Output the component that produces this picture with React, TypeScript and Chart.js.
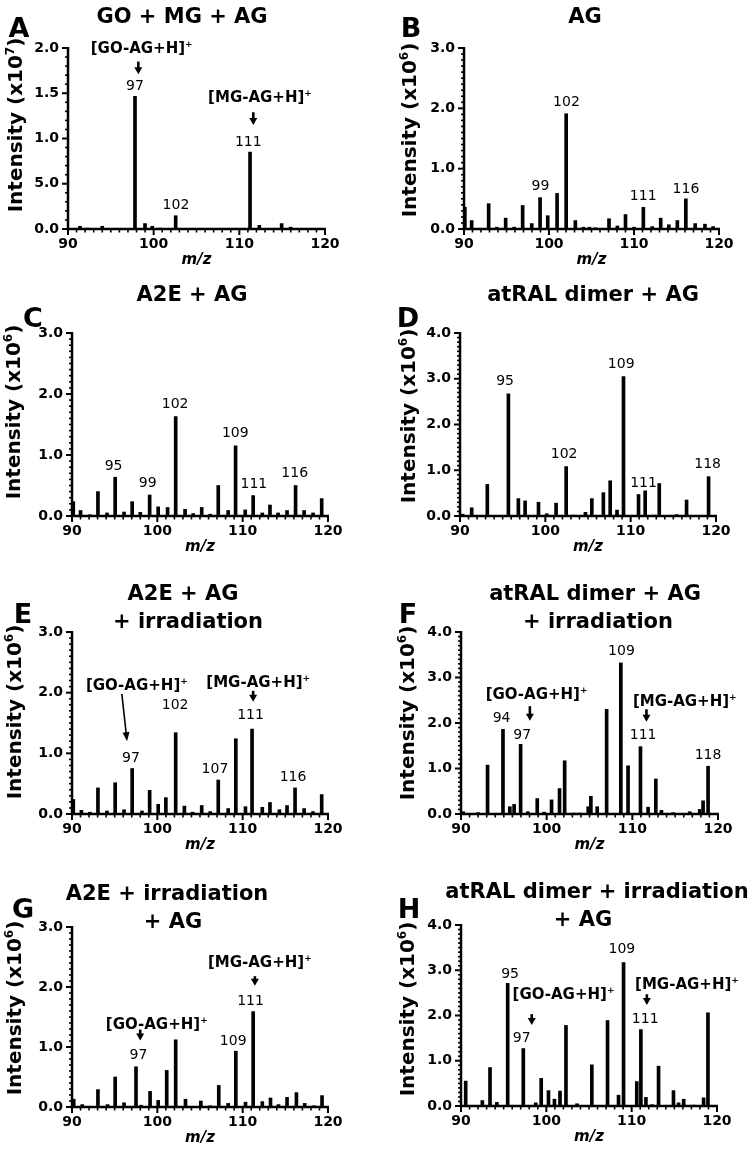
import React, { useEffect, useRef } from "react";
import { Chart, registerables } from "chart.js";

Chart.register(...registerables);

const FONT = "'DejaVu Sans', 'Liberation Sans', sans-serif";
const PAGE_W = 749;
const PAGE_H = 1149;
const YW = 40;
const XH = 30;

// ---------- data ----------
const xTickLabels = ["90", "100", "110", "120"];
const yTicksA = ["0.0", "5.0", "1.0", "1.5", "2.0"];
const yTicks3 = ["0.0", "1.0", "2.0", "3.0"];
const yTicks4 = ["0.0", "1.0", "2.0", "3.0", "4.0"];

// A: GO + MG + AG (x10^7)
const mzA = [91.4, 92.26, 94.0, 97.82, 98.99, 99.84, 100.74, 102.57, 111.25, 112.33, 114.94, 115.99];
const intA = [0.03, 0.01, 0.03, 1.466, 0.06, 0.03, 0.01, 0.147, 0.85, 0.04, 0.06, 0.02];

// B: AG
const mzB = [90.1, 90.9, 92.9, 93.85, 94.9, 95.9, 96.9, 97.97, 98.95, 99.85, 100.95, 102.02, 103.1, 104.05, 104.75, 105.45, 107.06, 108.04, 109.0, 110.0, 111.1, 112.15, 113.14, 114.1, 115.1, 116.1, 117.2, 118.35, 119.3];
const intB = [0.36, 0.14, 0.42, 0.03, 0.18, 0.03, 0.39, 0.09, 0.52, 0.22, 0.59, 1.91, 0.14, 0.03, 0.03, 0.02, 0.17, 0.05, 0.24, 0.03, 0.36, 0.04, 0.18, 0.07, 0.14, 0.5, 0.09, 0.08, 0.04];

// C: A2E + AG
const mzC = [90.15, 91.0, 92.1, 93.04, 94.1, 95.06, 96.1, 97.05, 98.0, 99.1, 100.1, 101.2, 102.15, 103.25, 104.2, 105.2, 106.2, 107.14, 108.3, 109.17, 110.3, 111.23, 112.3, 113.2, 114.15, 115.2, 116.2, 117.2, 118.25, 119.26];
const intC = [0.235, 0.09, 0.02, 0.4, 0.05, 0.635, 0.065, 0.235, 0.06, 0.345, 0.15, 0.14, 1.63, 0.11, 0.04, 0.14, 0.03, 0.5, 0.09, 1.15, 0.1, 0.335, 0.05, 0.18, 0.05, 0.09, 0.5, 0.09, 0.05, 0.285];

// D: atRAL dimer + AG
const mzD = [90.3, 91.37, 92.35, 93.2, 95.67, 96.84, 97.63, 99.2, 100.17, 101.26, 102.44, 103.3, 104.7, 105.45, 106.8, 107.6, 108.4, 109.16, 110.92, 111.7, 112.7, 113.35, 115.4, 116.55, 119.13];
const intD = [0.04, 0.18, 0.01, 0.69, 2.67, 0.38, 0.33, 0.3, 0.05, 0.28, 1.08, 0.02, 0.08, 0.38, 0.51, 0.77, 0.13, 3.05, 0.47, 0.55, 0.02, 0.71, 0.03, 0.35, 0.86];

// E: A2E + AG + irradiation
const mzE = [90.15, 91.1, 92.1, 93.04, 94.1, 95.06, 96.1, 97.05, 98.2, 99.1, 100.1, 101.0, 102.15, 103.17, 104.14, 105.2, 106.2, 107.14, 108.3, 109.2, 110.33, 111.1, 112.3, 113.2, 114.3, 115.2, 116.14, 117.2, 118.24, 119.26];
const intE = [0.24, 0.06, 0.03, 0.43, 0.05, 0.515, 0.07, 0.75, 0.05, 0.39, 0.16, 0.27, 1.34, 0.13, 0.03, 0.14, 0.04, 0.56, 0.09, 1.24, 0.12, 1.4, 0.11, 0.19, 0.07, 0.14, 0.43, 0.09, 0.04, 0.32];

// F: atRAL dimer + AG + irradiation
const mzF = [90.27, 92.0, 93.1, 94.9, 95.7, 96.2, 96.96, 97.8, 98.9, 99.7, 100.57, 101.5, 102.1, 103.2, 103.8, 104.85, 105.16, 105.9, 107.0, 108.66, 109.5, 110.95, 111.84, 112.74, 113.4, 114.76, 116.7, 117.87, 118.26, 118.84];
const intF = [0.05, 0.03, 1.075, 1.86, 0.16, 0.21, 1.53, 0.05, 0.34, 0.04, 0.31, 0.56, 1.17, 0.02, 0.02, 0.16, 0.39, 0.16, 2.3, 3.32, 1.06, 1.48, 0.15, 0.77, 0.08, 0.03, 0.05, 0.1, 0.29, 1.05];

// G: A2E + irradiation + AG
const mzG = [90.2, 91.2, 93.04, 94.17, 95.06, 96.1, 97.5, 98.1, 99.15, 100.1, 101.1, 102.15, 103.3, 105.1, 106.2, 107.2, 108.3, 109.2, 110.33, 111.23, 112.3, 113.26, 114.2, 115.2, 116.3, 117.27, 118.36, 119.3];
const intG = [0.13, 0.04, 0.29, 0.04, 0.5, 0.07, 0.67, 0.03, 0.26, 0.11, 0.61, 1.12, 0.13, 0.1, 0.02, 0.36, 0.06, 0.93, 0.08, 1.59, 0.09, 0.15, 0.04, 0.16, 0.24, 0.06, 0.02, 0.19];

// H: atRAL dimer + irradiation + AG
const mzH = [90.55, 92.5, 93.4, 94.2, 95.47, 97.3, 98.76, 99.4, 100.25, 100.95, 101.6, 102.3, 103.6, 105.33, 107.17, 108.46, 109.05, 110.6, 111.08, 111.67, 112.37, 113.15, 114.9, 115.5, 116.1, 117.26, 118.43, 118.94];
const intH = [0.55, 0.12, 0.85, 0.08, 2.71, 1.27, 0.07, 0.61, 0.34, 0.15, 0.33, 1.78, 0.05, 0.91, 1.89, 0.24, 3.17, 0.54, 1.69, 0.19, 0.03, 0.88, 0.34, 0.07, 0.15, 0.02, 0.18, 2.06];

// ---------- layout / annotations ----------
type Peak = { t: string; x: number; y: number };
type Ion = { name: string; x: number; y: number; ax: number; ay1: number; ax2?: number; ay2: number; thin?: boolean };
type Panel = {
  letter: string; letterPos: [number, number];
  titles: { text: string; x: number; y: number }[];
  yExp: string; yTitlePos: [number, number];
  L: number; R: number; T: number; B: number;
  yMax: number; yMajor: number; yMinor: number; yLabels: string[];
  mz: number[]; val: number[];
  peaks: Peak[]; ions: Ion[];
};

const panels: Panel[] = [
  {
    letter: "A", letterPos: [19, 27], titles: [{ text: "GO + MG + AG", x: 182, y: 15 }],
    yExp: "7", yTitlePos: [15, 125], L: 68, R: 325, T: 48, B: 229,
    yMax: 2, yMajor: 0.5, yMinor: 0.1, yLabels: yTicksA, mz: mzA, val: intA,
    peaks: [{ t: "97", x: 97.82, y: 1.595 }, { t: "102", x: 102.6, y: 0.28 }, { t: "111", x: 111.05, y: 0.969 }],
    ions: [
      { name: "GO", x: 98.6, y: 2.0, ax: 98.21, ay1: 1.85, ay2: 1.71 },
      { name: "MG", x: 112.41, y: 1.466, ax: 111.63, ay1: 1.29, ay2: 1.15 },
    ],
  },
  {
    letter: "B", letterPos: [411, 27], titles: [{ text: "AG", x: 585, y: 15 }],
    yExp: "6", yTitlePos: [409, 130], L: 464, R: 719, T: 48, B: 229,
    yMax: 3, yMajor: 1, yMinor: 0.1, yLabels: yTicks3, mz: mzB, val: intB,
    peaks: [{ t: "99", x: 98.99, y: 0.735 }, { t: "102", x: 102.05, y: 2.116 }, { t: "111", x: 111.08, y: 0.569 }, { t: "116", x: 116.11, y: 0.68 }],
    ions: [],
  },
  {
    letter: "C", letterPos: [33, 317], titles: [{ text: "A2E + AG", x: 192, y: 293 }],
    yExp: "6", yTitlePos: [13, 412], L: 72, R: 328, T: 333, B: 516,
    yMax: 3, yMajor: 1, yMinor: 0.1, yLabels: yTicks3, mz: mzC, val: intC,
    peaks: [
      { t: "95", x: 94.87, y: 0.837 }, { t: "99", x: 98.88, y: 0.564 }, { t: "102", x: 102.08, y: 1.85 },
      { t: "109", x: 109.13, y: 1.374 }, { t: "111", x: 111.31, y: 0.536 }, { t: "116", x: 116.1, y: 0.728 },
    ],
    ions: [],
  },
  {
    letter: "D", letterPos: [408, 317], titles: [{ text: "atRAL dimer + AG", x: 593, y: 293 }],
    yExp: "6", yTitlePos: [408, 416], L: 460, R: 716, T: 333, B: 516,
    yMax: 4, yMajor: 1, yMinor: 0.1, yLabels: yTicks4, mz: mzD, val: intD,
    peaks: [
      { t: "95", x: 95.28, y: 2.978 }, { t: "102", x: 102.2, y: 1.387 }, { t: "109", x: 108.89, y: 3.343 },
      { t: "111", x: 111.51, y: 0.752 }, { t: "118", x: 119.02, y: 1.153 },
    ],
    ions: [],
  },
  {
    letter: "E", letterPos: [23, 613],
    titles: [{ text: "A2E + AG", x: 183, y: 592 }, { text: "+ irradiation", x: 188, y: 620 }],
    yExp: "6", yTitlePos: [14, 712], L: 72, R: 328, T: 632, B: 814,
    yMax: 3, yMajor: 1, yMinor: 0.1, yLabels: yTicks3, mz: mzE, val: intE,
    peaks: [
      { t: "97", x: 96.9, y: 0.944 }, { t: "102", x: 102.08, y: 1.821 }, { t: "107", x: 106.75, y: 0.768 },
      { t: "111", x: 110.92, y: 1.646 }, { t: "116", x: 115.9, y: 0.631 },
    ],
    ions: [
      { name: "GO", x: 97.6, y: 2.139, ax: 95.84, ay1: 1.98, ax2: 96.45, ay2: 1.2, thin: true },
      { name: "MG", x: 111.82, y: 2.178, ax: 111.23, ay1: 2.03, ay2: 1.85 },
    ],
  },
  {
    letter: "F", letterPos: [408, 613],
    titles: [{ text: "atRAL dimer + AG", x: 595, y: 592 }, { text: "+ irradiation", x: 598, y: 620 }],
    yExp: "6", yTitlePos: [407, 713], L: 461, R: 718, T: 632, B: 814,
    yMax: 4, yMajor: 1, yMinor: 0.1, yLabels: yTicks4, mz: mzF, val: intF,
    peaks: [
      { t: "94", x: 94.74, y: 2.135 }, { t: "97", x: 97.15, y: 1.77 }, { t: "109", x: 108.73, y: 3.598 },
      { t: "111", x: 111.26, y: 1.77 }, { t: "118", x: 118.84, y: 1.316 },
    ],
    ions: [
      { name: "GO", x: 98.82, y: 2.647, ax: 98.04, ay1: 2.37, ay2: 2.05 },
      { name: "MG", x: 116.12, y: 2.501, ax: 111.65, ay1: 2.3, ay2: 2.03 },
    ],
  },
  {
    letter: "G", letterPos: [23, 908],
    titles: [{ text: "A2E + irradiation", x: 167, y: 892 }, { text: "+ AG", x: 173, y: 920 }],
    yExp: "6", yTitlePos: [14, 1008], L: 72, R: 328, T: 927, B: 1107,
    yMax: 3, yMajor: 1, yMinor: 0.1, yLabels: yTicks3, mz: mzG, val: intG,
    peaks: [{ t: "97", x: 97.79, y: 0.889 }, { t: "109", x: 108.89, y: 1.122 }, { t: "111", x: 110.92, y: 1.778 }],
    ions: [
      { name: "GO", x: 99.93, y: 1.389, ax: 97.99, ay1: 1.29, ay2: 1.11 },
      { name: "MG", x: 112.01, y: 2.417, ax: 111.43, ay1: 2.18, ay2: 2.02 },
    ],
  },
  {
    letter: "H", letterPos: [409, 908],
    titles: [{ text: "atRAL dimer + irradiation", x: 597, y: 890 }, { text: "+ AG", x: 583, y: 918 }],
    yExp: "6", yTitlePos: [407, 1009], L: 461, R: 717, T: 925, B: 1106,
    yMax: 4, yMajor: 1, yMinor: 0.1, yLabels: yTicks4, mz: mzH, val: intH,
    peaks: [{ t: "95", x: 95.75, y: 2.932 }, { t: "97", x: 97.12, y: 1.532 }, { t: "109", x: 108.85, y: 3.484 }, { t: "111", x: 111.59, y: 1.937 }],
    ions: [
      { name: "GO", x: 102.01, y: 2.49, ax: 98.29, ay1: 2.03, ay2: 1.79 },
      { name: "MG", x: 116.48, y: 2.711, ax: 111.78, ay1: 2.47, ay2: 2.23 },
    ],
  },
];

// ---------- drawing helpers ----------
type Part = { t: string; sup?: boolean };

function drawRich(ctx: CanvasRenderingContext2D, parts: Part[], x: number, y: number, size: number, weight: string, style = "normal") {
  const supSize = Math.round(size * 0.62);
  const fMain = `${style} ${weight} ${size}px ${FONT}`;
  const fSup = `${style} ${weight} ${supSize}px ${FONT}`;
  let w = 0;
  for (const p of parts) {
    ctx.font = p.sup ? fSup : fMain;
    w += ctx.measureText(p.t).width;
  }
  let cx = x - w / 2;
  const base = y + size * 0.365;
  ctx.textAlign = "left";
  ctx.textBaseline = "alphabetic";
  for (const p of parts) {
    ctx.font = p.sup ? fSup : fMain;
    ctx.fillText(p.t, cx, p.sup ? base - size * 0.4 : base);
    cx += ctx.measureText(p.t).width;
  }
}

function drawArrow(ctx: CanvasRenderingContext2D, x1: number, y1: number, x2: number, y2: number, shaftW: number, headL: number, headW: number) {
  const dx = x2 - x1, dy = y2 - y1;
  const len = Math.hypot(dx, dy) || 1;
  const ux = dx / len, uy = dy / len;
  const bx = x2 - ux * headL, by = y2 - uy * headL;
  ctx.lineWidth = shaftW;
  ctx.beginPath();
  ctx.moveTo(x1, y1);
  ctx.lineTo(bx + ux, by + uy);
  ctx.stroke();
  ctx.beginPath();
  ctx.moveTo(x2, y2);
  ctx.lineTo(bx - (uy * headW) / 2, by + (ux * headW) / 2);
  ctx.lineTo(bx + (uy * headW) / 2, by - (ux * headW) / 2);
  ctx.closePath();
  ctx.fill();
}

function makeDecor(p: Panel) {
  return {
    id: "decor" + p.letter,
    afterDraw(chart: any) {
      const ctx: CanvasRenderingContext2D = chart.ctx;
      const xs = chart.scales.x, ys = chart.scales.y;
      const { left, right, top, bottom } = chart.chartArea;
      ctx.save();
      ctx.strokeStyle = "#000";
      ctx.fillStyle = "#000";
      ctx.lineCap = "butt";
      // axes
      ctx.lineWidth = 2.5;
      ctx.beginPath();
      ctx.moveTo(left, top - 1);
      ctx.lineTo(left, bottom + 1.25);
      ctx.moveTo(left - 1.25, bottom);
      ctx.lineTo(right + 1, bottom);
      ctx.stroke();
      // y ticks (major + minor)
      const nMinor = Math.round(p.yMax / p.yMinor);
      const per = Math.round(p.yMajor / p.yMinor);
      for (let i = 0; i <= nMinor; i++) {
        const py = ys.getPixelForValue(i * p.yMinor);
        const major = i % per === 0;
        ctx.lineWidth = major ? 2 : 1.6;
        ctx.beginPath();
        ctx.moveTo(left - (major ? 6 : 3), py);
        ctx.lineTo(left, py);
        ctx.stroke();
      }
      // x ticks (major + minor)
      for (let m = 90; m <= 120; m++) {
        const px = xs.getPixelForValue(m);
        const major = m % 10 === 0;
        ctx.lineWidth = major ? 2 : 1.6;
        ctx.beginPath();
        ctx.moveTo(px, bottom);
        ctx.lineTo(px, bottom + (major ? 6 : 3.5));
        ctx.stroke();
      }
      // x title
      drawRich(ctx, [{ t: "m/z" }], (left + right) / 2, bottom + 30, 15, "bold", "italic");
      // y title
      ctx.save();
      ctx.translate(p.yTitlePos[0], p.yTitlePos[1]);
      ctx.rotate(-Math.PI / 2);
      drawRich(ctx, [{ t: "Intensity (x10" }, { t: p.yExp, sup: true }, { t: ")" }], 0, 0, 20, "bold");
      ctx.restore();
      // panel letter and titles
      drawRich(ctx, [{ t: p.letter }], p.letterPos[0], p.letterPos[1], 27, "bold");
      for (const t of p.titles) drawRich(ctx, [{ t: t.text }], t.x, t.y, 21, "bold");
      // peak labels
      for (const pk of p.peaks) {
        drawRich(ctx, [{ t: pk.t }], xs.getPixelForValue(pk.x), ys.getPixelForValue(pk.y), 14, "normal");
      }
      // ion annotations with arrows
      for (const ion of p.ions) {
        drawRich(ctx, [{ t: `[${ion.name}-AG+H]` }, { t: "+", sup: true }], xs.getPixelForValue(ion.x), ys.getPixelForValue(ion.y), 15, "bold");
        const x1 = xs.getPixelForValue(ion.ax);
        const x2 = xs.getPixelForValue(ion.ax2 ?? ion.ax);
        const y1 = ys.getPixelForValue(ion.ay1);
        const y2 = ys.getPixelForValue(ion.ay2);
        if (ion.thin) drawArrow(ctx, x1, y1, x2, y2, 1.6, 9, 7);
        else drawArrow(ctx, x1, y1, x2, y2, 2.6, 7, 8);
      }
      ctx.restore();
    },
  };
}

function PanelChart({ p }: { p: Panel }) {
  const ref = useRef<HTMLCanvasElement | null>(null);
  useEffect(() => {
    if (!ref.current) return;
    const tickFont = { family: FONT, size: 14, weight: "bold" as const };
    const chart = new Chart(ref.current, {
      type: "bar",
      data: {
        datasets: [
          {
            data: p.mz.map((x, i) => ({ x, y: p.val[i] })),
            backgroundColor: "#000",
            borderWidth: 0,
            barThickness: 3,
          } as any,
        ],
      },
      options: {
        responsive: false,
        animation: false,
        devicePixelRatio: 1,
        events: [],
        layout: {
          padding: { left: p.L - YW, right: PAGE_W - p.R, top: p.T, bottom: PAGE_H - p.B - XH },
        },
        plugins: { legend: { display: false }, tooltip: { enabled: false }, title: { display: false } },
        scales: {
          x: {
            type: "linear",
            offset: false,
            min: 90,
            max: 120,
            grid: { display: false, drawTicks: false },
            border: { display: false },
            ticks: {
              stepSize: 10,
              autoSkip: false,
              maxRotation: 0,
              padding: 7,
              color: "#000",
              font: tickFont,
              callback: (_v: any, i: number) => xTickLabels[i],
            },
            afterFit: (s: any) => {
              s.height = XH;
            },
          },
          y: {
            type: "linear",
            min: 0,
            max: p.yMax,
            grid: { display: false, drawTicks: false },
            border: { display: false },
            ticks: {
              stepSize: p.yMajor,
              autoSkip: false,
              padding: 9,
              color: "#000",
              font: tickFont,
              callback: (_v: any, i: number) => p.yLabels[i],
            },
            afterFit: (s: any) => {
              s.width = YW;
            },
          },
        } as any,
      },
      plugins: [makeDecor(p)],
    });
    return () => chart.destroy();
  }, [p]);
  return (
    <canvas
      ref={ref}
      width={PAGE_W}
      height={PAGE_H}
      style={{ position: "absolute", left: 0, top: 0, width: PAGE_W, height: PAGE_H }}
    />
  );
}

export default function App() {
  return (
    <div style={{ position: "absolute", left: 0, top: 0, width: PAGE_W, height: PAGE_H, background: "#fff" }}>
      {panels.map((p) => (
        <PanelChart key={p.letter} p={p} />
      ))}
    </div>
  );
}
